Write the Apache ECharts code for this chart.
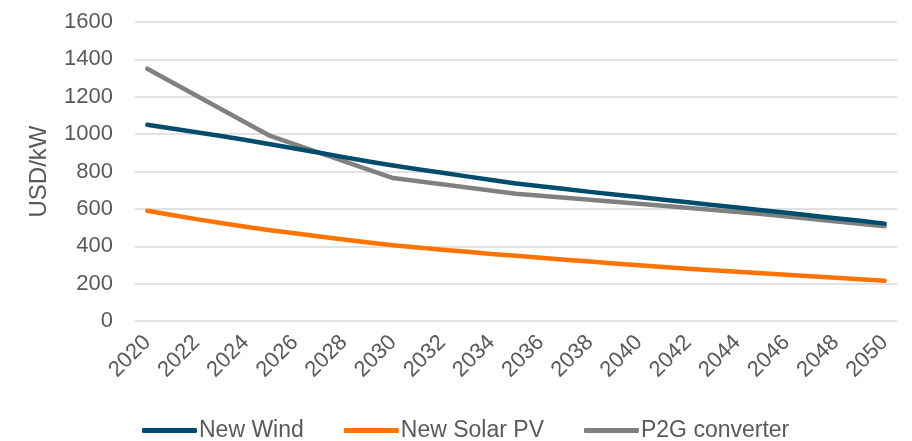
<!DOCTYPE html>
<html>
<head>
<meta charset="utf-8">
<script src="https://cdn.jsdelivr.net/npm/echarts@6/dist/echarts.min.js"></script>
<style>
  html, body { margin: 0; padding: 0; background: #ffffff; }
  #chart { width: 912px; height: 441px; }
</style>
</head>
<body>
<div id="chart"></div>
<script>
// Years on the category axis
const years = [];
for (let y = 2020; y <= 2050; y++) years.push(String(y));

// Capital cost, USD/kW
const newWind = [
  1050, 1030, 1010, 990, 969, 946,
  923, 900, 877, 854, 832,
  812, 793, 774, 755, 736,
  721, 706, 691, 677, 663,
  649, 635, 621, 607, 593,
  579, 565, 550, 536, 521
];
const newSolarPV = [
  590, 567, 545, 524, 504, 486,
  469, 452, 436, 420, 405,
  393, 381, 370, 359, 349,
  338, 328, 318, 308, 298,
  289, 280, 272, 263, 255,
  247, 239, 231, 223, 215
];
// P2G converter: five-yearly values only
const p2gConverter = [
  1350, null, null, null, null, 990,
  null, null, null, null, 765,
  null, null, null, null, 681,
  null, null, null, null, 628,
  null, null, null, null, 572,
  null, null, null, null, 507
];

const seriesNames = ['New Wind', 'New Solar PV', 'P2G converter'];
const seriesColors = ['#004C6E', '#FF7300', '#808080'];
const seriesData = [newWind, newSolarPV, p2gConverter];

const chart = echarts.init(document.getElementById('chart'));
const textColor = '#595959';
const font = 'Liberation Sans, Arial, sans-serif';

chart.setOption({
  animation: false,
  grid: { left: 135, right: 15, top: 22, bottom: 120, containLabel: false },
  legend: {
    bottom: -6,
    left: 137,
    itemWidth: 55,
    itemHeight: 5,
    itemGap: 40,
    icon: 'roundRect',
    textStyle: { color: textColor, fontSize: 23, fontFamily: font, padding: [0, 0, 0, -3] },
    data: seriesNames
  },
  xAxis: {
    type: 'category',
    data: years,
    boundaryGap: true,
    axisLine: { show: false },
    axisTick: { show: false },
    axisLabel: {
      interval: 1,
      rotate: 45,
      margin: 18,
      color: textColor,
      fontSize: 22,
      fontFamily: font
    }
  },
  yAxis: {
    type: 'value',
    min: 0,
    max: 1600,
    interval: 200,
    name: 'USD/kW',
    nameLocation: 'middle',
    nameGap: 84,
    nameTextStyle: { color: textColor, fontSize: 24, fontFamily: font },
    axisLine: { show: false },
    axisTick: { show: false },
    axisLabel: {
      margin: 22,
      color: textColor,
      fontSize: 22,
      fontFamily: font,
      formatter: (v) => String(v)
    },
    splitLine: { lineStyle: { color: '#D9D9D9', width: 1.5 } }
  },
  series: seriesNames.map((name, i) => ({
    name: name,
    type: 'line',
    data: seriesData[i],
    connectNulls: true,
    showSymbol: false,
    symbol: 'none',
    smooth: false,
    color: seriesColors[i],
    lineStyle: { width: 4.5, color: seriesColors[i], cap: 'round', join: 'round' },
    z: 3 - i
  }))
});
</script>
</body>
</html>
